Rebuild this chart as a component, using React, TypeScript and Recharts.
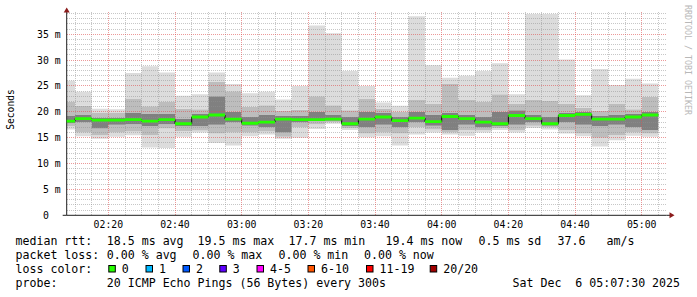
import React from 'react';
import { ComposedChart, Area, Line, XAxis, YAxis, ReferenceLine } from 'recharts';

// ---- data (one column per 5-minute step) ----
const slotStart = [
  '02:05', '02:10', '02:15', '02:20', '02:25', '02:30', '02:35', '02:40', '02:45',
  '02:50', '02:55', '03:00', '03:05', '03:10', '03:15', '03:20', '03:25', '03:30',
  '03:35', '03:40', '03:45', '03:50', '03:55', '04:00', '04:05', '04:10', '04:15',
  '04:20', '04:25', '04:30', '04:35', '04:40', '04:45', '04:50', '04:55', '05:00',
];
const rttMin = [16.6, 15.3, 14.8, 15.2, 15.5, 13.1, 13.0, 15.2, 16.0, 14.0, 13.5, 15.3, 15.6, 14.8, 15.0, 16.7, 17.7, 16.5, 15.1, 15.3, 13.5, 15.6, 16.0, 15.6, 15.4, 16.0, 16.5, 16.0, 16.9, 16.6, 15.8, 15.3, 13.3, 14.5, 15.4, 15.2];
const rttLo = [17.2, 16.0, 15.5, 16.0, 16.2, 15.5, 16.8, 16.3, 16.4, 15.8, 16.0, 16.0, 16.2, 15.2, 17.0, 17.6, 18.0, 16.9, 15.8, 16.0, 15.8, 17.0, 16.6, 16.0, 16.5, 16.5, 16.9, 16.5, 17.3, 17.0, 16.5, 15.8, 15.0, 15.5, 16.0, 15.8];
const rttLoInner = [17.8, 18.0, 16.8, 17.5, 17.6, 17.2, 17.6, 17.2, 17.2, 17.5, 18.0, 17.3, 17.0, 16.0, 18.0, 18.2, 18.3, 17.2, 17.0, 17.5, 17.0, 18.0, 17.3, 16.5, 17.5, 17.0, 17.2, 17.5, 18.0, 17.3, 18.0, 17.5, 17.2, 17.5, 17.0, 16.5];
const rttMedian = [18.2, 18.7, 18.4, 18.4, 18.5, 18.2, 18.5, 17.7, 19.0, 19.4, 18.6, 17.8, 18.0, 18.6, 18.5, 18.5, 18.6, 17.7, 18.6, 19.0, 18.3, 18.8, 18.1, 19.1, 18.7, 18.0, 17.7, 19.3, 18.7, 17.7, 19.3, 19.5, 18.6, 18.6, 19.0, 19.4];
const rttHiInner = [19.2, 19.5, 18.9, 18.9, 19.8, 19.6, 19.6, 18.7, 19.6, 23.0, 20.0, 19.0, 19.5, 19.2, 19.3, 20.0, 19.5, 19.0, 20.0, 19.8, 19.0, 20.0, 19.5, 19.8, 19.5, 19.0, 20.0, 20.3, 19.5, 19.0, 19.8, 20.0, 19.3, 19.5, 19.7, 20.0];
const rttHi = [22.0, 21.2, 19.8, 19.8, 22.5, 21.1, 21.9, 20.6, 20.5, 25.8, 24.0, 21.0, 21.3, 20.2, 20.4, 23.0, 21.3, 20.3, 22.6, 20.6, 20.0, 22.3, 21.5, 25.5, 22.4, 22.0, 23.4, 21.5, 22.4, 22.2, 21.5, 20.8, 20.2, 21.5, 20.5, 22.9];
const rttMax = [26.0, 23.9, 20.6, 20.5, 27.5, 28.8, 27.6, 23.1, 23.4, 27.6, 25.4, 23.6, 23.9, 22.4, 25.0, 36.7, 35.2, 27.9, 25.0, 21.8, 21.2, 38.5, 29.0, 26.6, 27.0, 27.9, 29.4, 23.4, 38.9, 38.9, 30.1, 23.2, 28.3, 25.2, 26.4, 25.5];

const stepMinutes = 5;
const windowStart = '02:07:30';
const windowEnd = '05:07:30';
const yTop = 39.5;
const medianBandWidth = 0.55;

const xTickLabels = ['02:20', '02:40', '03:00', '03:20', '03:40', '04:00', '04:20', '04:40', '05:00'];
const yTickValues = [0, 5, 10, 15, 20, 25, 30, 35];
const yTickLabels = ['0  ', '5 m', '10 m', '15 m', '20 m', '25 m', '30 m', '35 m'];

const lossLabels = ['0', '1', '2', '3', '4-5', '6-10', '11-19', '20/20'];
const lossColors = ['#26ff00', '#00b8ff', '#0059ff', '#5e00ff', '#ff00ff', '#ff5500', '#ff0000', '#a00000'];

const statsRtt = ['18.5 ms avg', '19.5 ms max', '17.7 ms min', '19.4 ms now', '0.5 ms sd', '37.6', 'am/s'];
const statsLoss = ['0.00 % avg', '0.00 % max', '0.00 % min', '0.00 % now'];

// ---- helpers ----
const toMin = (s: string) => {
  const p = s.split(':').map(Number);
  return p[0] * 60 + p[1] + (p[2] || 0) / 60;
};
const fmt = (m: number) => {
  const h = Math.floor(m / 60);
  const mm = Math.round(m - h * 60);
  return `${String(h).padStart(2, '0')}:${String(mm).padStart(2, '0')}`;
};

const rows: any[] = slotStart.map((s, i) => ({
  t: toMin(s),
  base: rttMin[i],
  b1: rttLo[i] - rttMin[i],
  b2: rttLoInner[i] - rttLo[i],
  b3: rttMedian[i] - rttLoInner[i],
  b4: rttHiInner[i] - rttMedian[i],
  b5: rttHi[i] - rttHiInner[i],
  b6: rttMax[i] - rttHi[i],
  med: rttMedian[i],
  mBase: rttMedian[i] - medianBandWidth / 2,
  mBand: medianBandWidth,
}));
// close the last step
rows.push({ ...rows[rows.length - 1], t: rows[rows.length - 1].t + stepMinutes });

const xStart = toMin(windowStart);
const xEnd = toMin(windowEnd);
const xTicks = xTickLabels.map(toMin);

const minorX: number[] = [];
const majorX: number[] = [];
for (let t = Math.ceil(xStart / stepMinutes) * stepMinutes; t < xEnd; t += stepMinutes) {
  if (t % 20 === 0) majorX.push(t);
  else minorX.push(t);
}
const minorY: number[] = [];
const majorY: number[] = [];
for (let v = 1; v < yTop; v += 1) {
  if (v % 5 === 0) majorY.push(v);
  else minorY.push(v);
}

const MONO = '"DejaVu Sans Mono", "Liberation Mono", monospace';

const XTick = (props: any) => {
  const { x, y, payload } = props;
  return (
    <text x={x} y={y} dy={13} textAnchor="middle" fontFamily={MONO} fontSize={9.8} fill="#000">
      {fmt(payload.value)}
    </text>
  );
};
const YTick = (props: any) => {
  const { x, y, payload } = props;
  const idx = yTickValues.indexOf(payload.value);
  return (
    <text
      x={x - 6}
      y={y}
      dy={3.4}
      textAnchor="end"
      fontFamily={MONO}
      fontSize={9.8}
      fill="#000"
      xmlSpace="preserve"
      style={{ whiteSpace: 'pre' }}
    >
      {yTickLabels[idx]}
    </text>
  );
};

const bandColors = ['#dcdcdc', '#bdbdbd', '#808080', '#808080', '#bdbdbd', '#dcdcdc'];

const rttX = [107.3, 198, 289, 386, 479, 558, 607];
const lossX = [107.3, 193, 279, 364.5];
const boxX = [108.3, 145.5, 182.5, 219.3, 256.5, 307.5, 366, 429.7];

const minorGrid = { stroke: '#8f8f8f', strokeOpacity: 0.5, strokeDasharray: '1 1', shapeRendering: 'crispEdges' } as any;
const majorGrid = { stroke: '#de5050', strokeOpacity: 0.58, strokeDasharray: '1 1', shapeRendering: 'crispEdges' } as any;

export default function App() {
  return (
    <div style={{ position: 'absolute', left: 0, top: 0, width: 697, height: 297, background: '#fff' }}>
      <ComposedChart
        width={697}
        height={297}
        data={rows}
        margin={{ top: 11, right: 30.3, bottom: 0, left: 0 }}
      >
        <XAxis
          dataKey="t"
          type="number"
          domain={[xStart, xEnd]}
          allowDataOverflow
          ticks={xTicks}
          interval={0}
          tick={<XTick />}
          tickLine={false}
          tickSize={0}
          tickMargin={0}
          axisLine={{ stroke: '#1f1f1f' }}
          height={81.7}
        />
        <YAxis
          type="number"
          domain={[0, yTop]}
          allowDataOverflow
          ticks={yTickValues}
          interval={0}
          tick={<YTick />}
          tickLine={false}
          tickSize={0}
          tickMargin={0}
          axisLine={{ stroke: '#1f1f1f' }}
          width={66.7}
        />
        <Area type="stepAfter" dataKey="base" stackId="s" stroke="none" fill="none" fillOpacity={0} isAnimationActive={false} />
        {['b1', 'b2', 'b3', 'b4', 'b5', 'b6'].map((k, i) => (
          <Area
            key={k}
            type="stepAfter"
            dataKey={k}
            stackId="s"
            stroke="none"
            fill={bandColors[i]}
            fillOpacity={1}
            isAnimationActive={false}
          />
        ))}
        {minorY.map((v) => (
          <ReferenceLine key={'my' + v} y={v} {...minorGrid} />
        ))}
        {minorX.map((v) => (
          <ReferenceLine key={'mx' + v} x={v} {...minorGrid} />
        ))}
        {majorY.map((v) => (
          <ReferenceLine key={'My' + v} y={v} {...majorGrid} />
        ))}
        {majorX.map((v) => (
          <ReferenceLine key={'Mx' + v} x={v} {...majorGrid} />
        ))}
        <Line type="stepAfter" dataKey="med" stroke="#000" strokeWidth={1} dot={false} isAnimationActive={false} zIndex={1000} />
        <Area type="stepAfter" dataKey="mBase" stackId="m" stroke="none" fill="none" fillOpacity={0} isAnimationActive={false} zIndex={1001} />
        <Area type="stepAfter" dataKey="mBand" stackId="m" stroke="none" fill="#26ff00" fillOpacity={1} isAnimationActive={false} zIndex={1001} />
      </ComposedChart>
      <svg
        width={697}
        height={297}
        style={{ position: 'absolute', left: 0, top: 0, pointerEvents: 'none' }}
      >
        {/* axis extensions and arrows */}
        <line x1={62.7} y1={215.3} x2={66.7} y2={215.3} stroke="#1f1f1f" />
        <line x1={666.7} y1={215.3} x2={670} y2={215.3} stroke="#1f1f1f" />
        <polygon points="669.5,212.3 669.5,218.3 674.5,215.3" fill="#8b1c1c" />
        <polygon points="63.7,12.5 69.7,12.5 66.7,7.5" fill="#8b1c1c" />
        {/* unit label */}
        <text
          x={0}
          y={0}
          transform="translate(13.5,109.5) rotate(-90)"
          textAnchor="middle"
          fontFamily={MONO}
          fontSize={9.6}
          fill="#000"
        >
          Seconds
        </text>
        {/* watermark */}
        <text
          x={0}
          y={0}
          transform="translate(684.5,5) rotate(90)"
          textAnchor="start"
          fontFamily={MONO}
          fontSize={8.3}
          fill="#b8b8b8"
        >
          RRDTOOL / TOBI OETIKER
        </text>
        {/* legend */}
        <g fontFamily={MONO} fontSize={11.6} fill="#000">
          <text x={15.5} y={245}>median rtt:</text>
          {statsRtt.map((s, i) => (
            <text key={'r' + i} x={rttX[i] - 0.5} y={245}>{s}</text>
          ))}
          <text x={15.5} y={259}>packet loss:</text>
          {statsLoss.map((s, i) => (
            <text key={'l' + i} x={lossX[i] - 0.5} y={259}>{s}</text>
          ))}
          <text x={15.5} y={273}>loss color:</text>
          {lossLabels.map((s, i) => (
            <g key={'c' + i}>
              <rect x={boxX[i] + 0.5} y={265.5} width={6.5} height={6.5} fill={lossColors[i]} stroke="#000" strokeWidth={1} />
              <text x={boxX[i] + 13.5} y={273}>{s}</text>
            </g>
          ))}
          <text x={15.5} y={287}>probe:</text>
          <text x={106.8} y={287}>20 ICMP Echo Pings (56 Bytes) every 300s</text>
          <text x={512.5} y={287} xmlSpace="preserve" style={{ whiteSpace: 'pre' }}>
            Sat Dec  6 05:07:30 2025
          </text>
        </g>
      </svg>
    </div>
  );
}
